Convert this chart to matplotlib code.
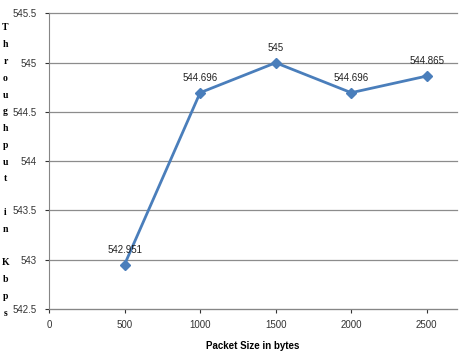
import matplotlib
matplotlib.use("Agg")
import matplotlib.pyplot as plt

# values
packet_size = [500, 1000, 1500, 2000, 2500]
throughput = [542.951, 544.696, 545.0, 544.696, 544.865]
point_labels = ["542.951", "544.696", "545", "544.696", "544.865"]
x_ticks = [0, 500, 1000, 1500, 2000, 2500]
y_ticks = [542.5, 543, 543.5, 544, 544.5, 545, 545.5]

plt.rcParams['font.family'] = ['Liberation Sans', 'DejaVu Sans']

fig = plt.figure(figsize=(4.64, 3.62), dpi=100)
ax = fig.add_axes([49/464, 1 - 309/362, (457 - 49)/464, (309 - 13.5)/362])

ax.plot(packet_size, throughput, color='#4a7ebb', lw=2, marker='D', ms=5.5,
        mfc='#4a7ebb', mec='#4a7ebb', zorder=3)

for x, y, s in zip(packet_size, throughput, point_labels):
    ax.annotate(s, (x, y), xytext=(0, 7), textcoords='offset points',
                ha='center', va='bottom', fontsize=7, color='#222222')

ax.set_xlim(0, 2700)
ax.set_ylim(542.5, 545.5)
ax.set_xticks(x_ticks)
ax.set_yticks(y_ticks)
ax.set_yticklabels(["542.5", "543", "543.5", "544", "544.5", "545", "545.5"])
ax.tick_params(labelsize=7, colors='#333333', length=3, width=0.8)
ax.tick_params(axis='y', pad=6)
ax.tick_params(axis='x', pad=5)
ax.yaxis.grid(True, color='#8c8c8c', lw=0.9)
for gl in ax.get_ygridlines():
    gl.set_clip_on(False)
ax.set_axisbelow(True)
for side in ['top', 'right']:
    ax.spines[side].set_visible(False)
for side in ['left', 'bottom']:
    ax.spines[side].set_color('#868686')

ax.set_xlabel("Packet Size in bytes", fontsize=7, fontweight='bold', labelpad=8)

# stacked vertical y label
label = "Throughput in Kbps"
y0 = 28
step = (313 - 28) / (len(label) - 1)
for i, ch in enumerate(label):
    if ch != ' ':
        fig.text(5.5/464, 1 - (y0 + i * step)/362, ch, fontsize=7,
                 family='Liberation Serif', fontweight='bold',
                 ha='center', va='center')

fig.savefig("out.png", dpi=100)
